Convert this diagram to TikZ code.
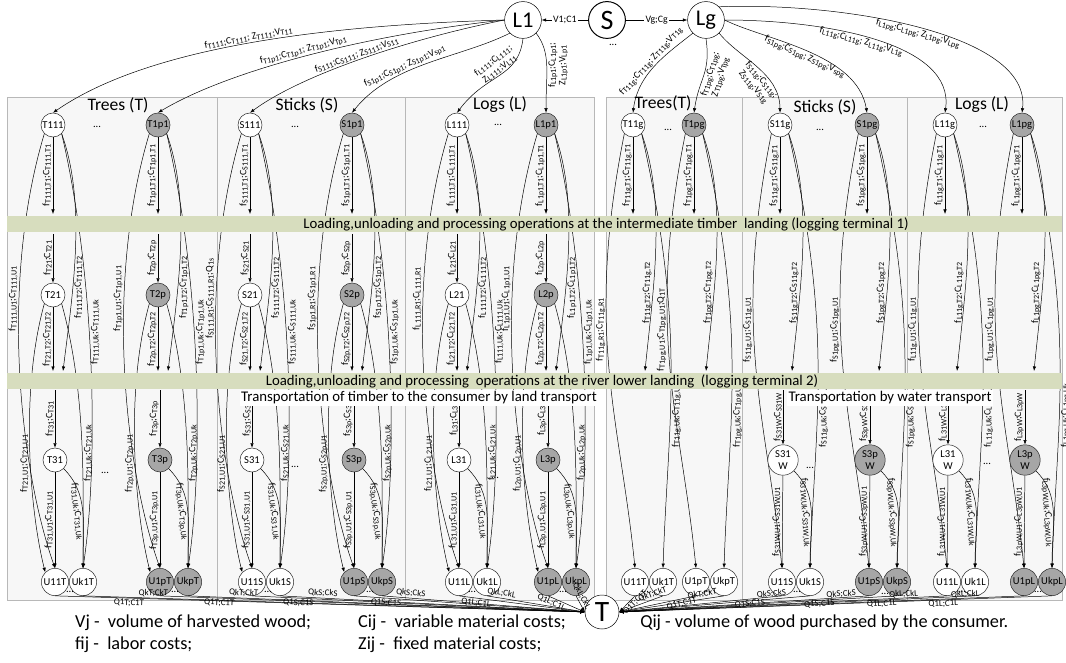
\documentclass[tikz,border=0pt]{standalone}
\usepackage{fontspec}
\setmainfont{Carlito}
\usetikzlibrary{arrows.meta}

\definecolor{bandgreen}{RGB}{215,221,190}
\definecolor{nodegray}{RGB}{166,166,166}

% lowered small index of the cost labels
\newcommand{\lsub}[1]{\raisebox{-.25ex}{\fontsize{5.7}{5.7}\selectfont #1}}
\newcommand{\fc}[1]{f\lsub{#1};C\lsub{#1}}
\newcommand{\fcz}[2]{f\lsub{#1};C\lsub{#1}; Z\lsub{#1};V\lsub{#2}}

% column of the first group: rows 1-3 and the two consumers
\newcommand{\leftcol}[9]{
    \node[#3] (#1-1) at (#2,-125) {#4};
    \node[#3] (#1-2) at (#2,-295) {#5};
    \node[#3] (#1-3) at (#2+2,-460) {#6};
    \node[#3,un] (#1-u) at (#2+2,-582) {#7};
    \node[#3,un] (#1-k) at (#2+30,-582) {#8};
    \coordinate (#1-b1) at (#2,-214);
    \coordinate (#1-e1) at (#2,-234);
    \coordinate (#1-b2) at (#2,-371);
    \coordinate (#1-b2r) at (#2+10,-371);
    \coordinate (#1-e2) at (#2+2,-390);
    \draw[->] (#1-1) -- (#1-b1) node[vl,midway,anchor=south] {\fc{#4,T1}};
    \draw[->] (#1-1.south east) .. controls +(25,-70) and +(10,80) .. (#1-b2r)
        node[vl,pos=.66,anchor=north] {\fc{#4,T2}};
    \draw[->] (#1-1.south west) .. controls +(-45,-150) and +(-35,100) .. (#1-u.north)
        node[vl,pos=.35,anchor=south] {#9};
    \draw[->] (#1-1.south east) .. controls +(35,-150) and +(15,100) .. (#1-k.north)
        node[vl,pos=.42,anchor=north] {\fc{#4,Uk}};
    \draw[->] (#1-e1) -- (#1-2) node[vl,midway,anchor=south] {\fc{#5}};
    \draw[->] (#1-2) -- (#1-b2) node[vl,midway,anchor=south] {\fc{#5,T2}};
    \draw[->] (#1-2.south west) .. controls +(-25,-90) and +(-15,60) .. (#1-u.north west)
        node[vl,pos=.55,anchor=south] {\fc{#5,U1}};
    \draw[->] (#1-2.south east) .. controls +(25,-90) and +(0,80) .. (#1-k.north)
        node[vl,pos=.55,anchor=north] {\fc{#5,Uk}};
    \draw[->] (#1-e2) -- (#1-3) node[vl,midway,anchor=south] {\fc{#6}};
    \draw[->] (#1-3) -- (#1-u) node[vl,midway,anchor=south] {\fc{#6,U1}};
    \draw[->] (#1-3.south east) .. controls +(25,-25) and +(0,45) .. (#1-k.north)
        node[lab,sloped,pos=.5,below] {\fc{#6,Uk}};
}

% column of the second group: row 1 and the two consumers
\newcommand{\rightcol}[8]{
    \node[#3] (#1-1) at (#2,-125) {#5};
    \node[#4,un] (#1-u) at (#2+2,-582) {#6};
    \node[#4,un] (#1-k) at (#2+30,-582) {#7};
    \coordinate (#1-b1) at (#2,-214);
    \coordinate (#1-b2r) at (#2+12,-371);
    \draw[->] (#1-1) -- (#1-b1) node[vl,midway,anchor=south] {\fc{#5,T1}};
    \draw[->] (#1-1.south east) .. controls +(25,-70) and +(8,80) .. (#1-b2r)
        node[vl,pos=.68,anchor=south] {\fc{#5,T2}};
    \draw[->] (#1-1.south west) .. controls +(-40,-200) and +(-15,150) .. (#1-u.north)
        node[vl,pos=.4,anchor=south] {#8};
    \draw[->] (#1-1.south east) .. controls +(45,-200) and +(5,150) .. (#1-k.north)
        node[vl,pos=.62,anchor=north] {\fc{#5,Uk}};
}

% water transport node of a second group column
\newcommand{\wcol}[5]{
    \node[#3,wnd] (#1-3) at (#2+3,-460) {#4\\W};
    \coordinate (#1-e2) at (#2+3,-390);
    \draw[->] (#1-e2) -- (#1-3) node[vl,midway,anchor=south] {\fc{#5}};
    \draw[->] (#1-3) -- (#1-u) node[vl,midway,anchor=south] {\fc{#5,U1}};
    \draw[->] (#1-3.south east) .. controls +(25,-25) and +(0,45) .. (#1-k.north)
        node[lab,sloped,pos=.5,below] {\fc{#5,Uk}};
}

\begin{document}
\begin{tikzpicture}[x=0.025cm,y=0.025cm,>={Latex[length=3.2pt,width=2.4pt]},line width=.35pt,
    nd/.style={circle,draw=black!85,inner sep=.3pt,minimum size=.6cm,font=\fontsize{7.5}{8}\selectfont},
    wn/.style={nd,fill=white},
    gn/.style={nd,fill=nodegray},
    un/.style={minimum size=.68cm},
    wnd/.style={minimum size=.76cm,align=center},
    bignode/.style={circle,draw,minimum size=.92cm,inner sep=0pt,fill=white,font=\fontsize{16}{17}\selectfont},
    lab/.style={font=\fontsize{7}{7.5}\selectfont,inner sep=.8pt},
    vl/.style={lab,rotate=90},
    tl/.style={lab,sloped},
    ql/.style={lab,sloped,font=\fontsize{6.3}{6.5}\selectfont},
    dotnd/.style={font=\fontsize{7.5}{7.5}\selectfont,inner sep=0pt},
    ptitle/.style={font=\fontsize{12.5}{13}\selectfont,inner sep=1pt},
    bandtxt/.style={font=\fontsize{10.5}{11}\selectfont,inner sep=0pt},
    trtxt/.style={font=\fontsize{10.5}{11}\selectfont,fill=white,inner sep=1pt},
    leg/.style={font=\fontsize{13}{14}\selectfont,anchor=west,inner sep=0pt},
    panel/.style={draw=black!28,fill=black!3}]
    \useasboundingbox (0,0) rectangle (1066,-663);

    % panels
    \foreach \a/\b in {7/217,217/405,405/594,606/742,742/907,907/1062}
        \draw[panel] (\a,-97) rectangle (\b,-600);
    \node[ptitle] (tt1) at (118,-105) {Trees (T)};
    \node[ptitle] (st1) at (307,-105) {Sticks (S)};
    \node[ptitle] (lt1) at (500,-105) {Logs (L)};
    \node[ptitle] (tt2) at (663,-103) {Trees(T)};
    \node[ptitle] (st2) at (825,-107) {Sticks (S)};
    \node[ptitle] (lt2) at (982,-105) {Logs (L)};

    % first group
    \leftcol{ta}{53}{wn}{T111}{T21}{T31}{U11T}{Uk1T}{\fc{T111,U1}}
    \leftcol{tp}{158}{gn}{T1p1}{T2p}{T3p}{U1pT}{UkpT}{\fc{T1p1,U1}}
    \leftcol{sa}{250}{wn}{S111}{S21}{S31}{U11S}{Uk1S}{\fc{S111,R1};Q\lsub{1s}}
    \leftcol{sp}{352}{gn}{S1p1}{S2p}{S3p}{U1pS}{UkpS}{\fc{S1p1,R1}}
    \leftcol{la}{457}{wn}{L111}{L21}{L31}{U11L}{Uk1L}{\fc{L111,R1}}
    \leftcol{lp}{546}{gn}{L1p1}{L2p}{L3p}{U1pL}{UkpL}{\fc{L1p1,U1}}

    % second group
    \rightcol{gta}{633}{wn}{wn}{T11g}{U11T}{Uk1T}{\fc{T11g,R1}}
    \rightcol{gtp}{694}{gn}{wn}{T1pg}{U1pT}{UkpT}{\fc{T1pg,U1};Q\lsub{1T}}
    \rightcol{gsa}{780}{wn}{wn}{S11g}{U11S}{Uk1S}{\fc{S11g,U1}}
    \rightcol{gsp}{867}{gn}{gn}{S1pg}{U1pS}{UkpS}{\fc{S1pg,U1}}
    \rightcol{gla}{945}{wn}{wn}{L11g}{U11L}{Uk1L}{\fc{L11g,U1}}
    \rightcol{glp}{1022}{gn}{gn}{L1pg}{U1pL}{UkpL}{\fc{L1pg,U1}}
    \wcol{gsa}{780}{wn}{S31}{S31W}
    \wcol{gsp}{867}{gn}{S3p}{S3pW}
    \wcol{gla}{945}{wn}{L31}{L31W}
    \wcol{glp}{1022}{gn}{L3p}{L3pW}

    % dots between the columns
    \foreach \x/\y [count=\i] in {97/127,295/127,498/125,668/130,820/130,983/127,
        105/473,295/467,495/478,810/468,987/464,
        70/592,175/592,268/592,370/592,472/592,563/592,645/592,707/592,797/592,885/594,962/592,1038/592,
        613/45}
        \node[dotnd] (dot\i) at (\x,-\y) {...};

    % landings
    \fill[bandgreen] (7,-216) rectangle (1062,-232);
    \node[bandtxt] (band1) at (606,-224) {Loading,unloading and processing operations at the intermediate timber\ \ landing (logging terminal 1)};
    \fill[bandgreen] (7,-373) rectangle (1062,-389);
    \node[bandtxt] (band2) at (542,-381) {Loading,unloading and processing\ \ operations at the river lower landing\ \ (logging terminal 2)};
    \node[trtxt] (land) at (419,-398) {Transportation of timber to the consumer by land transport};
    \node[trtxt] (water) at (890,-398) {Transportation by water transport};

    % suppliers
    \node[bignode] (lone) at (523,-20) {L1};
    \node[bignode,line width=.7pt,font=\fontsize{20}{20}\selectfont] (src) at (607,-20) {S};
    \node[bignode] (lg) at (706,-20) {Lg};
    \draw[->] (src.west) -- (lone.east) node[lab,midway,fill=white] {V1;C1};
    \draw[->] (src.east) -- (lg.west) node[lab,midway,fill=white] {Vg;Cg};

    \draw[->] (lone.west) .. controls +(-175,-5) and +(97,67) .. (ta-1.north)
        node[tl,pos=.5,above] {\fcz{T111}{T11}};
    \draw[->] (lone.west) .. controls +(-140,-15) and +(70,42) .. (tp-1.north)
        node[tl,pos=.5,above] {\fcz{T1p1}{Tp1}};
    \draw[->] (lone.west) .. controls +(-100,-20) and +(50,37) .. (sa-1.north)
        node[tl,pos=.5,above] {\fcz{S111}{S11}};
    \draw[->] (lone.south west) .. controls +(-50,-25) and +(40,50) .. (sp-1.north)
        node[tl,pos=.62,above] {\fcz{S1p1}{sp1}};
    \draw[->] (lone.south) .. controls +(-5,-40) and +(30,40) .. (la-1.north)
        node[tl,pos=.45,above,align=center] {f\lsub{L111};C\lsub{L111};\\Z\lsub{L111};V\lsub{L11}};
    \draw[->] (lone.south east) .. controls +(15,-20) and +(0,40) .. (lp-1.north)
        node[vl,pos=.5,anchor=north,align=center] {f\lsub{L1p1};C\lsub{L1p1};\\Z\lsub{L1p1};V\lsub{Lp1}};

    \draw[->] (lg.south west) .. controls +(-25,-20) and +(5,40) .. (gta-1.north)
        node[tl,pos=.5,above] {\fcz{T11g}{T1g}};
    \draw[->] (lg.south) .. controls +(5,-35) and +(5,35) .. (gtp-1.north)
        node[tl,pos=.45,below,align=center] {f\lsub{T1pg};C\lsub{T1pg};\\Z\lsub{T1pg};V\lsub{Tpg}};
    \draw[->] (lg.south east) .. controls +(20,-25) and +(0,40) .. (gsa-1.north)
        node[tl,pos=.62,below,align=center] {f\lsub{S11g};C\lsub{S11g};\\Z\lsub{S11g};V\lsub{S1g}};
    \draw[->] (lg.east) .. controls +(40,-20) and +(-10,60) .. (gsp-1.north)
        node[tl,pos=.5,below] {\fcz{S1pg}{spg}};
    \draw[->] (lg.east) .. controls +(100,0) and +(10,70) .. (gla-1.north)
        node[tl,pos=.45,below] {\fcz{L11g}{L1g}};
    \draw[->] (lg.north east) .. controls +(120,5) and +(10,80) .. (glp-1.north)
        node[tl,pos=.5,below] {\fcz{L1pg}{Lpg}};

    % consumer
    \node[bignode,font=\fontsize{21}{21}\selectfont,minimum size=.85cm] (cons) at (602,-612) {T};
    \foreach \n/\q in {ta-u/Q1T;C1T,tp-u/Q1T;C1T,sa-u/Q1S;C1S,sp-u/Q1S;C1S,la-u/Q1L;C1L,lp-u/Q1L;C1L}
        \draw[->] (\n.south) -- (cons.west) node[ql,pos=.14,below] {\q};
    \foreach \n/\q in {ta-k/QkT;CkT,tp-k/QkT;CkT,sa-k/QkS;CkS,sp-k/QkS;CkS,la-k/QkL;CkL,lp-k/QkL;CkL}
        \draw[->] (\n.south) -- (cons.west) node[ql,pos=.14,above] {\q};
    \foreach \n/\q in {gta-u/Q1T;C1T,gtp-u/Q1T;C1T,gsa-u/Q1S;C1S,gsp-u/Q1S;C1S,gla-u/Q1L;C1L,glp-u/Q1L;C1L}
        \draw[->] (\n.south) -- (cons.east) node[ql,pos=.2,below] {\q};
    \foreach \n/\q in {gta-k/QkT;CkT,gtp-k/QkT;CkT,gsa-k/QkS;CkS,gsp-k/QkS;CkS,gla-k/QkL;CkL,glp-k/QkL;CkL}
        \draw[->] (\n.south) -- (cons.east) node[ql,pos=.2,above] {\q};

    % legend
    \node[leg] (legv) at (75,-623) {Vj -\ \ volume of harvested wood;};
    \node[leg] (legf) at (75,-645) {fij -\ \ labor costs;};
    \node[leg] (legc) at (358,-623) {Cij -\ \ variable material costs;};
    \node[leg] (legz) at (358,-645) {Zij -\ \ fixed material costs;};
    \node[leg] (legq) at (640,-623) {Qij - volume of wood purchased by the consumer.};
\end{tikzpicture}
\end{document}
